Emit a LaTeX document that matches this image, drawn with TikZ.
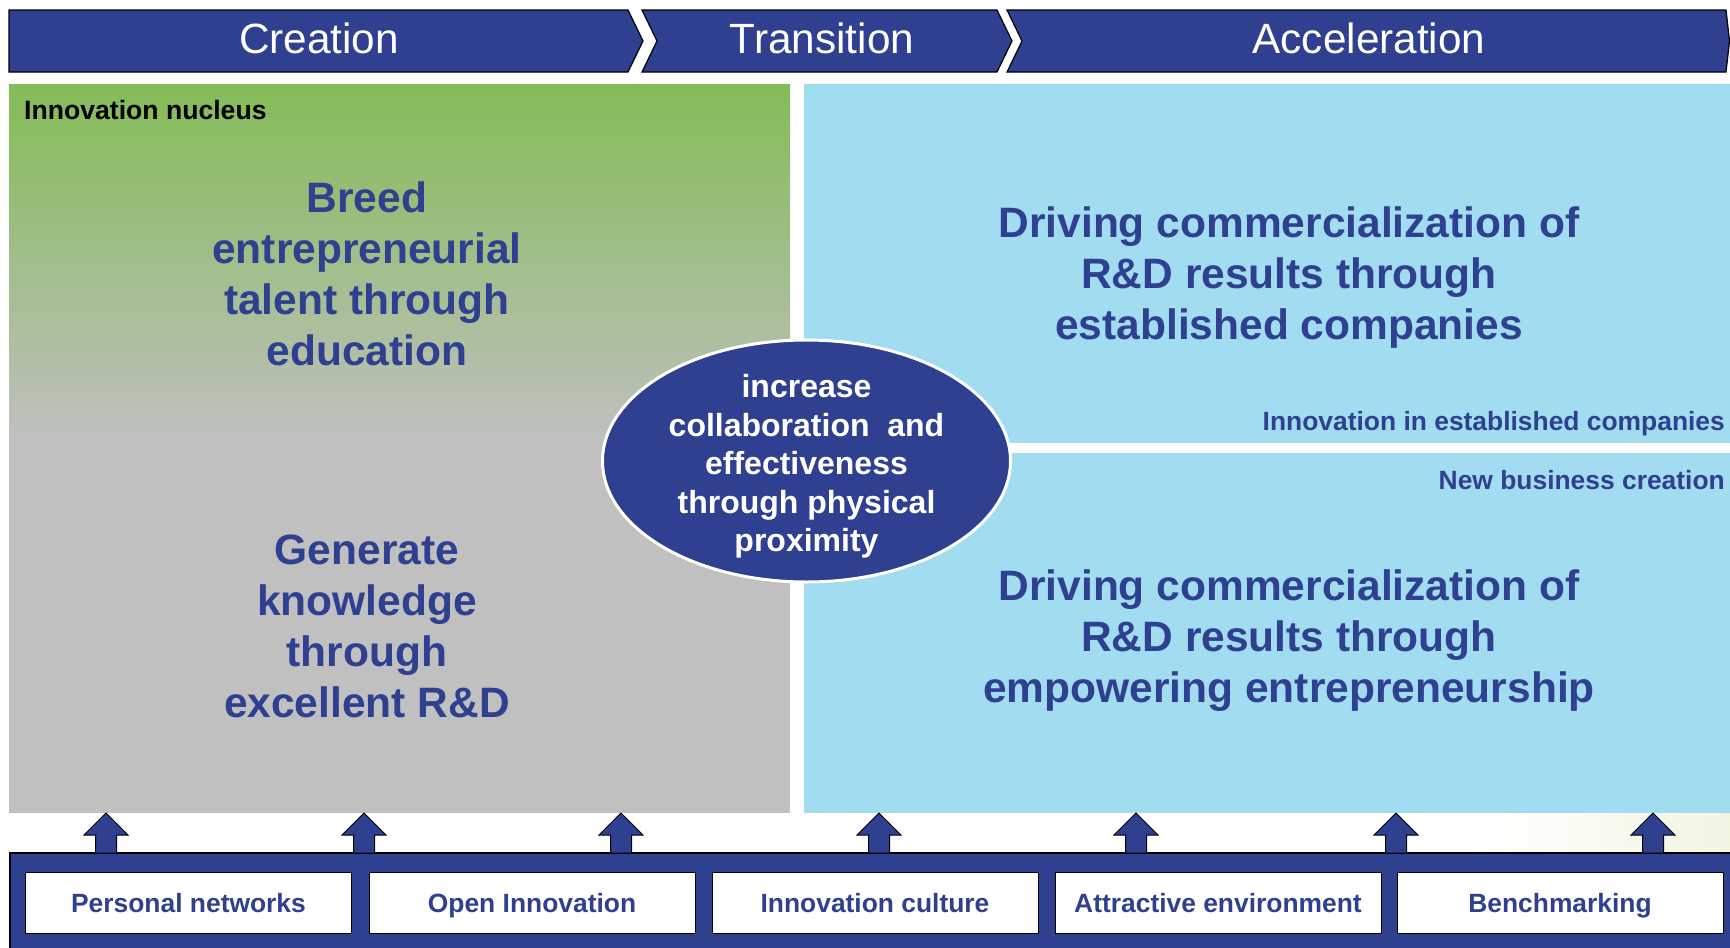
\documentclass[tikz,border=0pt]{standalone}
\usepackage{fontspec}
\setmainfont{Liberation Sans}
\usetikzlibrary{shapes.geometric}
\definecolor{navy}{HTML}{2E408F}
\definecolor{leaf}{HTML}{84BC57}
\definecolor{stone}{HTML}{C0C0C0}
\definecolor{sky}{HTML}{A1DCF0}
\definecolor{paleyg}{HTML}{F2F5E2}
\tikzset{
  phase/.style={fill=navy, draw=black, line width=1.2pt},
  phasetext/.style={text=white, font=\fontsize{42.3}{50}\selectfont, inner sep=0pt},
  bigtext/.style={text=navy, align=center, font=\bfseries\fontsize{42.5}{51}\selectfont, inner sep=0pt},
  smalllabel/.style={text=navy, font=\bfseries\fontsize{26.4}{31}\selectfont, inner sep=0pt, text height=19pt, text depth=0pt},
  factorbox/.style={fill=white, draw=black, line width=1pt, minimum width=326pt, minimum height=61pt, inner sep=0pt, anchor=north west, text=navy, font=\bfseries\fontsize{26.4}{31}\selectfont, text height=19pt, text depth=0pt},
  blockarrow/.style={fill=navy, draw=black, line width=1pt, line join=miter},
}
\begin{document}
\begin{tikzpicture}[x=1pt,y=-1pt]
\useasboundingbox (0,0) rectangle (1730,948);
\fill[white] (0,0) rectangle (1730,948);
% faint background tint
\shade[left color=white, right color=paleyg] (1480,800) rectangle (1730,853);
% phase banner
\draw[phase] (9,10) -- (628,10) -- (643,41) -- (628,72) -- (9,72) -- cycle;
\draw[phase] (642,10) -- (997,10) -- (1012,41) -- (997,72) -- (642,72) -- (657,41) -- cycle;
\draw[phase] (1007,10) -- (1726,10) -- (1729.5,41) -- (1726,72) -- (1007,72) -- (1022,41) -- cycle;
\node[phasetext] (creation) at (319,38) {Creation};
\node[phasetext] (transition) at (822,38) {Transition};
\node[phasetext] (acceleration) at (1369,38) {Acceleration};
% left panel
\shade[top color=leaf, bottom color=stone] (9,84) rectangle (790,445);
\fill[stone] (9,444) rectangle (790,813);
% right panels
\fill[sky] (804,84) rectangle (1730,443);
\fill[sky] (804,453) rectangle (1730,813);
\node[anchor=west, inner sep=0pt, font=\bfseries\fontsize{26.6}{31}\selectfont, text height=19pt, text depth=0pt] (nucleus) at (24,110) {Innovation nucleus};
\node[bigtext] (breed) at (367,274) {Breed\\entrepreneurial\\talent through\\education};
\node[bigtext] (generate) at (367,626) {Generate\\knowledge\\through\\excellent R\&D};
\node[bigtext] (established) at (1289,278) {Driving commercialization of\\R\&D results through\\established companies};
\node[bigtext] (empowering) at (1289,641) {Driving commercialization of\\R\&D results through\\empowering entrepreneurship};
\node[smalllabel, anchor=east] (innoest) at (1725,420.5) {Innovation in established companies};
\node[smalllabel, anchor=east] (newbiz) at (1725,480) {New business creation};
% central ellipse
\node[ellipse, fill=navy, draw=white, line width=3pt, minimum width=408pt, minimum height=242pt, inner sep=0pt] (hub) at (806.5,461) {};
\node[text=white, align=center, inner sep=0pt, font=\bfseries\fontsize{32}{38.5}\selectfont] (hubtext) at ([yshift=-5.5pt]hub.center) {increase\\collaboration~ and\\effectiveness\\through physical\\proximity};
% bottom bar
\draw[fill=navy, draw=black, line width=1.2pt] (10,949) -- (10,853) -- (1732,853) -- (1732,949);
\node[factorbox] (f1) at (25,872) {Personal networks};
\node[factorbox] (f2) at (368.5,872) {Open Innovation};
\node[factorbox] (f3) at (711.5,872) {Innovation culture};
\node[factorbox] (f4) at (1054.5,872) {Attractive environment};
\node[factorbox] (f5) at (1396.5,872) {Benchmarking};
% block arrows
\foreach \ax in {106,364,621,879,1136,1396,1653}{
  \draw[blockarrow] (\ax,813) -- (\ax+22,835) -- (\ax+10.5,835) -- (\ax+10.5,853) -- (\ax-10.5,853) -- (\ax-10.5,835) -- (\ax-22,835) -- cycle;
}
\end{tikzpicture}
\end{document}
